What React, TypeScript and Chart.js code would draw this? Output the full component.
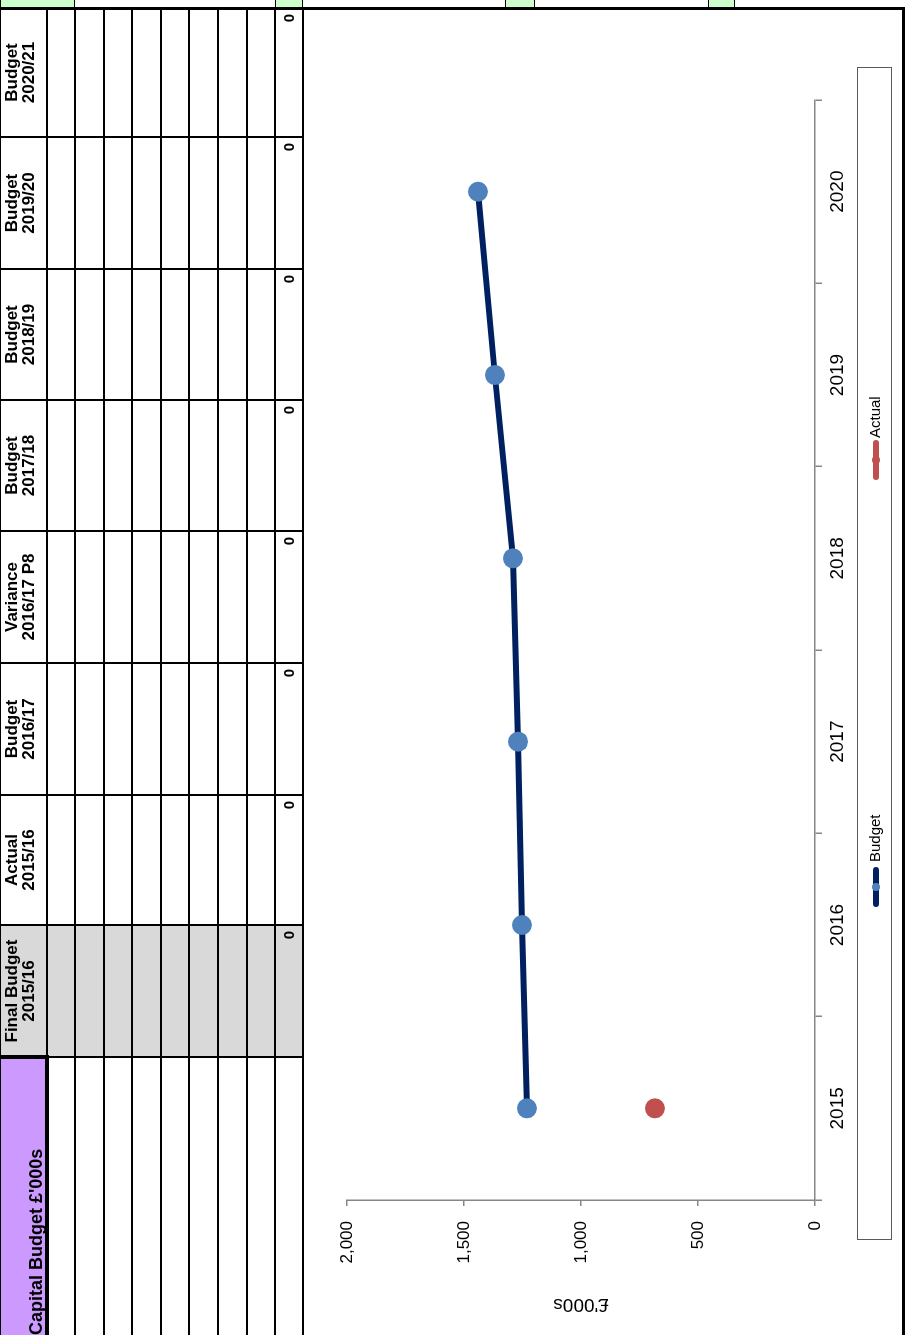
import React, { useEffect, useRef } from 'react';
import { Chart, registerables } from 'chart.js';

Chart.register(...registerables);

const FONT = '"Liberation Sans", Arial, Helvetica, sans-serif';

// ---- chart data ----
const years = ['2015', '2016', '2017', '2018', '2019', '2020'];
const budgetValues = [1231, 1252, 1269, 1291, 1368, 1440];
const actualValues = [684, null, null, null, null, null];
const seriesNames = ['Budget', 'Actual'];
const lineColors = ['#002060', '#C0504D'];
const pointColors = ['#4F81BD', '#C0504D'];
const valueMin = 0;
const valueMax = 2000;
const valueStep = 500;
const axisTitle = "£'000s";

// ---- table data ----
const tableTitle = "Capital Budget £'000s";
const columnHeaders = [
  ['Final Budget', '2015/16'],
  ['Actual', '2015/16'],
  ['Budget', '2016/17'],
  ['Variance', '2016/17 P8'],
  ['Budget', '2017/18'],
  ['Budget', '2018/19'],
  ['Budget', '2019/20'],
  ['Budget', '2020/21'],
];
const totalValues = [0, 0, 0, 0, 0, 0, 0, 0];

// ---- layout (page drawn in its original orientation, then turned) ----
const PAGE_W = 1335;
const PAGE_H = 910;
const colEdges = [0, 278, 410, 540, 672, 804, 935, 1066, 1198, 1327];
const rowEdges = [0, 47, 75, 104, 132, 161, 189, 218, 247, 275, 303];
const greenBits = [[0, 75], [275, 303], [505, 535], [708, 735]];

function ChartCanvas() {
  const ref = useRef<HTMLCanvasElement | null>(null);
  useEffect(() => {
    if (!ref.current) return;
    Chart.defaults.font.family = FONT;
    const chart = new Chart(ref.current, {
      type: 'line',
      data: {
        labels: years,
        datasets: [
          {
            label: seriesNames[0],
            data: budgetValues,
            borderColor: lineColors[0],
            backgroundColor: pointColors[0],
            borderWidth: 6,
            pointRadius: 10,
            pointBackgroundColor: pointColors[0],
            pointBorderColor: pointColors[0],
            pointBorderWidth: 0,
            tension: 0,
          },
          {
            label: seriesNames[1],
            data: actualValues,
            borderColor: lineColors[1],
            backgroundColor: pointColors[1],
            borderWidth: 6,
            pointRadius: 10,
            pointBackgroundColor: pointColors[1],
            pointBorderColor: pointColors[1],
            pointBorderWidth: 0,
            tension: 0,
          },
        ],
      } as any,
      options: {
        animation: false,
        responsive: false,
        maintainAspectRatio: false,
        layout: { padding: { top: 42, right: 90, bottom: 47, left: 0 } },
        plugins: { legend: { display: false }, tooltip: { enabled: false } },
        scales: {
          x: {
            type: 'category',
            offset: true,
            grid: {
              display: true,
              offset: true,
              drawOnChartArea: false,
              drawTicks: true,
              tickLength: 7,
              color: '#868686',
              lineWidth: 1.5,
            },
            border: { display: true, color: '#868686', width: 1.5 },
            ticks: {
              font: { family: FONT, size: 19 },
              color: '#000',
              padding: 4,
              maxRotation: 0,
              minRotation: 0,
              autoSkip: false,
            },
            afterFit: (s: any) => {
              s.height = 40;
            },
          },
          y: {
            min: valueMin,
            max: valueMax,
            grid: {
              display: true,
              drawOnChartArea: false,
              drawTicks: true,
              tickLength: 6,
              color: '#868686',
              lineWidth: 1.5,
            },
            border: { display: true, color: '#868686', width: 1.5 },
            ticks: {
              stepSize: valueStep,
              font: { family: FONT, size: 17 },
              color: '#000',
              padding: 15,
              callback: (v: any) => Number(v).toLocaleString('en-US'),
            },
            title: {
              display: true,
              text: axisTitle,
              color: '#000',
              font: { family: FONT, size: 19 },
              padding: { top: 19, bottom: 0 },
            },
            afterFit: (s: any) => {
              s.width = 135;
            },
          },
        },
      } as any,
    });
    return () => chart.destroy();
  }, []);
  return (
    <canvas
      ref={ref}
      width={1325}
      height={597}
      style={{ position: 'absolute', left: 0, top: 305, width: 1325, height: 597 }}
    />
  );
}

function Legend() {
  const items = [
    { left: 428, textLeft: 473 },
    { left: 855, textLeft: 897 },
  ];
  return (
    <>
      <div
        style={{
          position: 'absolute',
          left: 95,
          top: 857,
          width: 1173,
          height: 35,
          border: '1.5px solid #5a5a5a',
          boxSizing: 'border-box',
        }}
      />
      {seriesNames.map((name, i) => (
        <React.Fragment key={name}>
          <div
            style={{
              position: 'absolute',
              left: items[i].left,
              top: 872.5,
              width: 40,
              height: 6,
              borderRadius: 3,
              background: lineColors[i],
            }}
          />
          <div
            style={{
              position: 'absolute',
              left: items[i].left + 16,
              top: 871.5,
              width: 8,
              height: 8,
              borderRadius: 4,
              background: pointColors[i],
            }}
          />
          <div
            style={{
              position: 'absolute',
              left: items[i].textLeft,
              top: 865,
              height: 20,
              lineHeight: '20px',
              fontSize: 15,
              color: '#000',
              whiteSpace: 'nowrap',
            }}
          >
            {name}
          </div>
        </React.Fragment>
      ))}
    </>
  );
}

function Table() {
  const els: React.ReactNode[] = [];
  const right = colEdges[colEdges.length - 1];
  const bottom = rowEdges[rowEdges.length - 1];
  const lastTop = rowEdges[rowEdges.length - 2];
  // fills
  els.push(
    <div key="purple" style={{ position: 'absolute', left: 0, top: 0, width: colEdges[1], height: rowEdges[1], background: '#CC99FF' }} />
  );
  els.push(
    <div key="gray" style={{ position: 'absolute', left: colEdges[1], top: 0, width: colEdges[2] - colEdges[1], height: bottom, background: '#D9D9D9' }} />
  );
  // title
  els.push(
    <div
      key="title"
      style={{ position: 'absolute', left: 0, top: 26, fontSize: 18, lineHeight: '20px', fontWeight: 'bold', whiteSpace: 'nowrap', color: '#000' }}
    >
      {tableTitle}
    </div>
  );
  // headers and totals
  columnHeaders.forEach((h, i) => {
    const l = colEdges[i + 1];
    const w = colEdges[i + 2] - l;
    els.push(
      <div
        key={'h' + i}
        style={{ position: 'absolute', left: l, top: 3, width: w, textAlign: 'center', fontSize: 17, lineHeight: '17px', fontWeight: 'bold', color: '#000', whiteSpace: 'nowrap' }}
      >
        {h[0]}
        <br />
        {h[1]}
      </div>
    );
    els.push(
      <div
        key={'t' + i}
        style={{
          position: 'absolute',
          left: l,
          top: lastTop,
          width: w - 6,
          height: bottom - lastTop,
          lineHeight: bottom - lastTop + 'px',
          textAlign: 'right',
          fontSize: 15,
          fontWeight: 'bold',
          color: '#000',
        }}
      >
        {totalValues[i]}
      </div>
    );
  });
  // grid lines
  rowEdges.forEach((v, i) => {
    els.push(
      <div key={'r' + i} style={{ position: 'absolute', left: 0, top: v - 1, width: right, height: 2, background: '#000' }} />
    );
  });
  colEdges.slice(1).forEach((u, i) => {
    els.push(
      <div key={'c' + i} style={{ position: 'absolute', left: u - 1, top: 0, width: 2, height: bottom, background: '#000' }} />
    );
  });
  // thick borders round the title cell
  els.push(<div key="tk1" style={{ position: 'absolute', left: colEdges[1] - 2, top: 0, width: 4, height: rowEdges[1] + 2, background: '#000' }} />);
  els.push(<div key="tk2" style={{ position: 'absolute', left: 0, top: rowEdges[1] - 2, width: colEdges[1], height: 4, background: '#000' }} />);
  return <>{els}</>;
}

export default function App() {
  return (
    <div
      style={{
        position: 'fixed',
        left: 0,
        top: 0,
        width: PAGE_W,
        height: PAGE_H,
        background: '#fff',
        overflow: 'hidden',
        transformOrigin: '0 0',
        transform: `translate(0px, ${PAGE_W}px) rotate(-90deg)`,
        fontFamily: FONT,
      }}
    >
      <Table />
      <ChartCanvas />
      <Legend />
      {/* outer borders */}
      <div style={{ position: 'absolute', left: 1325, top: 0, width: 3, height: 905, background: '#000' }} />
      <div style={{ position: 'absolute', left: 0, top: 902, width: 1328, height: 3, background: '#000' }} />
      {greenBits.map(([a, b], i) => (
        <div
          key={'g' + i}
          style={{ position: 'absolute', left: 1328, top: a, width: 7, height: b - a, background: '#CCFFCC', borderTop: '1px solid #000', borderBottom: '1px solid #000', boxSizing: 'border-box' }}
        />
      ))}
    </div>
  );
}
